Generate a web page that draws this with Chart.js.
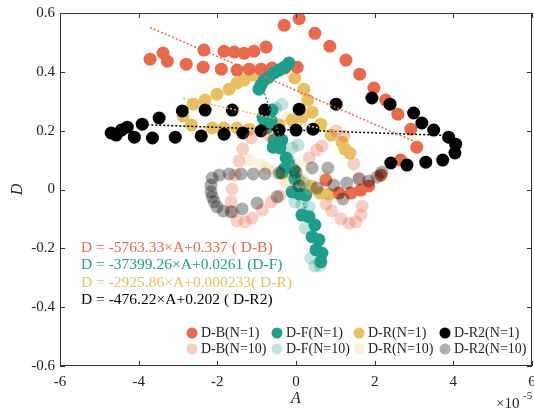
<!DOCTYPE html>
<html>
<head>
<meta charset="utf-8">
<script src="https://cdn.jsdelivr.net/npm/chart.js@4.4.1/dist/chart.umd.min.js"></script>
<style>
  html, body { margin: 0; padding: 0; background: #fff; }
  #wrap { width: 534px; height: 412px; }
</style>
</head>
<body>
<div id="wrap"><canvas id="chart" width="534" height="412"></canvas></div>
<script>
// Series data: [A (x1e-5), D]
const dB1 = [[-3.71,0.443],[-3.38,0.464],[-3.27,0.436],[-2.79,0.426],[-2.34,0.474],[-2.36,0.416],
  [-1.90,0.409],[-1.83,0.470],[-1.57,0.467],[-1.32,0.463],[-1.07,0.470],[-0.76,0.484],[-1.50,0.406],
  [-1.19,0.409],[-0.89,0.409],[-0.61,0.413],[-0.28,0.413],[0.03,0.416],[-0.30,0.558],[0.08,0.581],
  [0.48,0.531],[0.86,0.487],[1.27,0.440],[1.62,0.392],[1.98,0.345],[2.28,0.304],[2.59,0.256],
  [2.92,0.205],[3.07,0.144],[2.66,0.100],[2.16,0.049],[1.85,0.012],[1.65,-0.002],[1.40,-0.012],
  [1.09,-0.012],[0.76,0.032]];
const dF1 = [[-0.18,0.430],[-0.30,0.416],[-0.43,0.406],[-0.56,0.396],[-0.69,0.382],[-0.81,0.372],
  [-0.89,0.355],[-0.94,0.341],[-0.61,0.270],[-0.84,0.246],[-0.79,0.226],[-0.74,0.209],[-0.63,0.233],
  [-0.56,0.168],[-0.36,0.168],[-0.58,0.144],[-0.41,0.141],[-0.25,0.107],[-0.18,0.087],[-0.30,0.070],
  [-0.05,0.066],[-0.36,0.056],[-0.03,0.036],[-0.10,-0.008],[0.08,-0.015],[0.25,-0.019],[0.15,-0.087],
  [0.33,-0.093],[0.48,-0.121],[0.41,-0.161],[0.58,-0.171],[0.51,-0.205],[0.66,-0.216],[0.63,-0.246]];
const dR1 = [[-2.87,0.250],[-2.61,0.290],[-2.31,0.304],[-2.01,0.324],[-1.70,0.341],[-1.50,0.362],
  [-1.32,0.372],[-1.09,0.389],[-0.76,0.399],[-0.46,0.406],[-0.03,0.379],[0.20,0.341],[0.30,0.304],
  [0.41,0.263],[0.15,0.246],[-0.10,0.236],[0.63,0.222],[0.89,0.185],[1.17,0.161],[1.24,0.138],
  [1.37,0.124],[-2.66,0.219],[-2.13,0.209],[-1.83,0.209],[-1.50,0.209],[-1.19,0.205],[-0.43,0.219],
  [-0.18,0.059],[0.08,0.032],[0.38,0.012],[0.61,-0.012],[0.84,-0.015]];
const dR21 = [[-4.70,0.192],[-4.57,0.185],[-4.44,0.202],[-4.29,0.212],[-4.11,0.178],[-3.91,0.222],
  [-3.65,0.175],[-3.48,0.243],[-3.07,0.178],[-2.89,0.267],[-2.41,0.182],[-2.31,0.270],[-1.83,0.188],
  [-1.62,0.270],[-1.35,0.192],[-0.89,0.199],[-0.79,0.270],[-0.43,0.202],[0.00,0.202],[0.08,0.273],
  [0.43,0.205],[1.02,0.290],[1.93,0.311],[2.39,0.290],[2.99,0.260],[3.20,0.226],[3.50,0.202],
  [3.88,0.178],[4.06,0.154],[4.04,0.124],[3.73,0.100],[3.30,0.093],[2.82,0.083],[2.41,0.090]];
const dB10 = [[-0.69,0.185],[-1.14,0.175],[-1.35,0.138],[-1.45,0.097],[-1.55,0.049],[-1.62,0.002],
  [-1.65,-0.042],[-1.60,-0.076],[-1.50,-0.107],[-1.29,-0.110],[-1.12,-0.097],[-0.86,-0.070],
  [-0.63,-0.042],[-0.41,-0.022],[0.33,0.107],[0.53,0.134],[0.66,0.148],[1.02,0.199],[1.22,0.182],
  [1.47,0.087],[1.60,0.039],[1.68,-0.056],[1.65,-0.087],[1.52,-0.110],[1.35,-0.114],[1.14,-0.100],
  [0.91,-0.073],[0.76,-0.049]];
const dF10 = [[-0.51,0.277],[-0.36,0.290],[-0.10,0.141],[0.05,0.151],[-0.03,-0.042],[0.15,-0.053],
  [0.33,-0.059],[0.23,-0.131],[0.38,-0.233],[0.48,-0.260],[0.61,-0.260],[-0.18,0.100],[0.20,0.022]];
const dR10 = [[-0.74,0.073],[-0.56,0.059],[-0.38,0.042],[-0.23,0.022],[0.03,0.083],[0.20,0.032],
  [0.38,-0.002],[0.58,-0.012],[0.84,-0.022],[0.74,0.046],[-0.23,0.243],[-0.89,0.083],[-1.19,0.100]];
const dR210 = [[-2.13,0.039],[-2.16,0.015],[-2.16,-0.008],[-2.13,-0.025],[-2.08,-0.042],[-2.01,-0.059],
  [-1.85,-0.073],[-1.65,-0.076],[-1.37,-0.066],[-0.99,-0.046],[-0.48,-0.025],[-1.95,0.049],
  [-1.70,0.053],[-1.40,0.053],[-1.09,0.053],[-0.79,0.053],[-0.43,0.056],[0.00,0.059],[0.41,0.073],
  [0.81,0.073],[0.08,0.012],[0.53,0.005],[0.96,0.015],[1.19,-0.032],[1.29,0.022],[1.60,0.036],
  [1.85,0.029],[2.06,0.042],[2.18,0.059]];

// Fits (slope per 1e-5 unit of A), drawn over the A range of each series
const fitSlope = [-0.0576333, -0.3739926, -0.0292586, -0.0047622];
const fitIntercept = [0.337, 0.0261, 0.226, 0.202];
const fitRange = [[-3.71, 3.07], [-0.94, 0.66], [-2.87, 1.37], [-3.78, 3.96]];
const fitText = [
  'D = -5763.33\u00d7A+0.337 ( D-B)',
  'D = -37399.26\u00d7A+0.0261 (D-F)',
  'D = -2925.86\u00d7A+0.000233( D-R)',
  'D = -476.22\u00d7A+0.202 ( D-R2)'
];

const seriesNames = ['D-B(N=1)', 'D-F(N=1)', 'D-R(N=1)', 'D-R2(N=1)',
                     'D-B(N=10)', 'D-F(N=10)', 'D-R(N=10)', 'D-R2(N=10)'];
const seriesData = [dB1, dF1, dR1, dR21, dB10, dF10, dR10, dR210];
const solid = ['#E8694B', '#1F9E89', '#E9C061', '#000000'];
const faded = ['rgba(232,105,75,0.32)', 'rgba(31,158,137,0.28)', 'rgba(233,192,97,0.22)', 'rgba(0,0,0,0.32)'];
// lower order = drawn on top
const drawOrder = [7, 6, 8, 5, 3, 2, 4, 1];

const SERIF = '"Liberation Serif", "DejaVu Serif", serif';

const datasets = seriesData.map((pts, i) => ({
  type: 'scatter',
  label: seriesNames[i],
  data: pts.map(p => ({ x: p[0], y: p[1] })),
  backgroundColor: i < 4 ? solid[i] : faded[i - 4],
  borderWidth: 0,
  pointRadius: 6.5,
  pointHoverRadius: 6.5,
  order: drawOrder[i]
}));

fitSlope.forEach((m, i) => {
  const [a0, a1] = fitRange[i];
  datasets.push({
    type: 'line',
    label: 'fit ' + i,
    data: [{ x: a0, y: m * a0 + fitIntercept[i] }, { x: a1, y: m * a1 + fitIntercept[i] }],
    borderColor: solid[i],
    borderWidth: 1.5,
    borderDash: [2, 2],
    pointRadius: 0,
    fill: false,
    order: 0
  });
});

// box, inward ticks, equations, legend, axis titles
const decor = {
  id: 'decor',
  afterDatasetsDraw(chart) {
    const ctx = chart.ctx;
    const { left, right, top, bottom } = chart.chartArea;
    const xs = chart.scales.x, ys = chart.scales.y;
    ctx.save();
    ctx.strokeStyle = '#333';
    ctx.lineWidth = 1;
    ctx.strokeRect(left + 0.5, top + 0.5, right - left - 1, bottom - top - 1);
    ctx.beginPath();
    xs.ticks.forEach(t => {
      const px = Math.round(xs.getPixelForValue(t.value)) + 0.5;
      ctx.moveTo(px, bottom); ctx.lineTo(px, bottom - 5);
      ctx.moveTo(px, top); ctx.lineTo(px, top + 5);
    });
    ys.ticks.forEach(t => {
      const py = Math.round(ys.getPixelForValue(t.value)) + 0.5;
      ctx.moveTo(left, py); ctx.lineTo(left + 5, py);
      ctx.moveTo(right, py); ctx.lineTo(right - 5, py);
    });
    ctx.stroke();

    // last x label sits on the canvas edge (cut off, as in the original)
    ctx.fillStyle = '#222';
    ctx.font = '15px ' + SERIF;
    ctx.textAlign = 'center';
    ctx.textBaseline = 'middle';
    ctx.fillText('6', xs.getPixelForValue(6), 382);

    // equations
    ctx.textAlign = 'left';
    ctx.font = '15.5px ' + SERIF;
    fitText.forEach((s, i) => {
      ctx.fillStyle = solid[i];
      ctx.fillText(s, 81, 248 + i * 17.3);
    });

    // legend 2 x 4
    const colX = [192, 277, 359, 445];
    const rowY = [333, 349];
    ctx.font = '14px ' + SERIF;
    seriesNames.forEach((name, i) => {
      const c = i % 4, r = Math.floor(i / 4);
      ctx.fillStyle = datasets[i].backgroundColor;
      ctx.beginPath();
      ctx.arc(colX[c], rowY[r], 5.5, 0, Math.PI * 2);
      ctx.fill();
      ctx.fillStyle = '#222';
      ctx.fillText(name, colX[c] + 9, rowY[r] + 0.5);
    });

    // axis titles and exponent
    ctx.fillStyle = '#222';
    ctx.font = 'italic 16px ' + SERIF;
    ctx.textAlign = 'center';
    ctx.fillText('A', xs.getPixelForValue(0), 399);
    ctx.save();
    ctx.translate(18, ys.getPixelForValue(0));
    ctx.rotate(-Math.PI / 2);
    ctx.fillText('D', 0, 0);
    ctx.restore();
    ctx.textAlign = 'left';
    ctx.font = '15px ' + SERIF;
    ctx.fillText('\u00d710', 496, 404);
    ctx.font = '11px ' + SERIF;
    ctx.fillText('-5', 523, 396);
    ctx.restore();
  }
};

new Chart(document.getElementById('chart'), {
  type: 'scatter',
  data: { datasets },
  options: {
    responsive: false,
    animation: false,
    layout: { autoPadding: false, padding: { left: 0, right: 2, top: 13, bottom: 0 } },
    plugins: { legend: { display: false }, tooltip: { enabled: false } },
    scales: {
      x: {
        type: 'linear', min: -6, max: 6,
        ticks: { stepSize: 2, color: '#222', font: { family: SERIF, size: 15 }, padding: 7,
                 maxRotation: 0, autoSkip: false,
                 callback: v => v >= 6 ? '' : String(v) },
        grid: { display: false, drawTicks: false },
        border: { display: false },
        afterFit(s) { s.height = 46; s.paddingLeft = 0; s.paddingRight = 0; }
      },
      y: {
        type: 'linear', min: -0.6, max: 0.6,
        ticks: { stepSize: 0.2, color: '#222', font: { family: SERIF, size: 15 }, padding: 5,
                 callback: v => Math.abs(v) < 1e-9 ? '0' : v.toFixed(1) },
        grid: { display: false, drawTicks: false },
        border: { display: false },
        afterFit(s) { s.width = 60; s.paddingTop = 0; s.paddingBottom = 0; }
      }
    }
  },
  plugins: [decor]
});
</script>
</body>
</html>
